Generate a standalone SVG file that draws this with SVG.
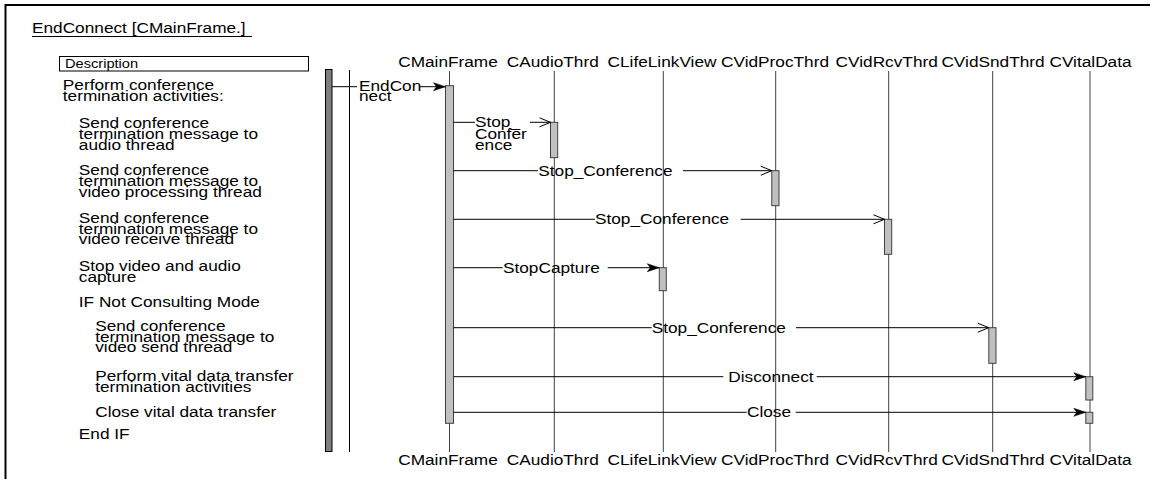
<svg xmlns="http://www.w3.org/2000/svg" width="1154" height="479" viewBox="0 0 1154 479">
<style>
.t{font-family:"Liberation Sans",Arial,sans-serif;font-size:14.5px;fill:#000}
.d{font-size:12.3px}
.h{text-anchor:middle}
.ll{stroke:#404040;stroke-width:1;fill:none}
.act{fill:#c0c0c0;stroke:#404040;stroke-width:1}
.msg{stroke:#000;stroke-width:1;fill:none}
.mo{marker-end:url(#open)}
.mf{marker-end:url(#fill)}
</style>
<defs>
<marker id="open" markerUnits="userSpaceOnUse" markerWidth="13" markerHeight="11" refX="11" refY="4.5" orient="auto" overflow="visible">
<path d="M0,0 L11,4.5 L0,9" fill="none" stroke="#000" stroke-width="1"/>
</marker>
<marker id="fill" markerUnits="userSpaceOnUse" markerWidth="13" markerHeight="10" refX="12" refY="4" orient="auto" overflow="visible">
<path d="M0,0 L12,4 L0,8 L3,4 z" fill="#000" stroke="#000" stroke-width="0.5"/>
</marker>
</defs>
<rect width="1154" height="479" fill="#fff"/>
<g id="frame">
<path d="M5.5,481 V5 H1150" fill="none" stroke="#000" stroke-width="2"/>
<text class="t" transform="translate(32,33) scale(1.19,1)">EndConnect [CMainFrame.]</text>
<line x1="32" y1="36.5" x2="252" y2="36.5" stroke="#000" stroke-width="1"/>
</g>
<g id="description">
<rect x="59.5" y="56.5" width="249" height="14.5" fill="#fff" stroke="#000" stroke-width="1"/>
<text class="t d" transform="translate(65,68.3) scale(1.19,1)">Description</text>
<text class="t" transform="translate(62.8,90) scale(1.19,1)"><tspan x="0" y="0">Perform conference</tspan><tspan x="0" y="10.6">termination activities:</tspan></text>
<text class="t" transform="translate(78.8,128.3) scale(1.19,1)"><tspan x="0" y="0">Send conference</tspan><tspan x="0" y="10.8">termination message to</tspan><tspan x="0" y="21.6">audio thread</tspan></text>
<text class="t" transform="translate(78.8,175) scale(1.19,1)"><tspan x="0" y="0">Send conference</tspan><tspan x="0" y="10.8">termination message to</tspan><tspan x="0" y="21.6">video processing thread</tspan></text>
<text class="t" transform="translate(78.8,222.7) scale(1.19,1)"><tspan x="0" y="0">Send conference</tspan><tspan x="0" y="10.8">termination message to</tspan><tspan x="0" y="21.6">video receive thread</tspan></text>
<text class="t" transform="translate(78.8,270.7) scale(1.19,1)"><tspan x="0" y="0">Stop video and audio</tspan><tspan x="0" y="10.8">capture</tspan></text>
<text class="t" transform="translate(78.8,306.8) scale(1.19,1)">IF Not Consulting Mode</text>
<text class="t" transform="translate(95.2,330.7) scale(1.19,1)"><tspan x="0" y="0">Send conference</tspan><tspan x="0" y="10.8">termination message to</tspan><tspan x="0" y="21.6">video send thread</tspan></text>
<text class="t" transform="translate(95.2,381) scale(1.19,1)"><tspan x="0" y="0">Perform vital data transfer</tspan><tspan x="0" y="10.8">termination activities</tspan></text>
<text class="t" transform="translate(95.2,416.7) scale(1.19,1)">Close vital data transfer</text>
<text class="t" transform="translate(78.8,439.3) scale(1.19,1)">End IF</text>
</g>
<g id="actor">
<rect x="325.5" y="69.5" width="6.5" height="382" fill="#808080" stroke="#000" stroke-width="1"/>
<line x1="349.5" y1="70" x2="349.5" y2="452" stroke="#000" stroke-width="1"/>
</g>
<g id="CMainFrame">
<text class="t h" transform="translate(448,66.7) scale(1.19,1)">CMainFrame</text>
<line class="ll" x1="449.5" y1="71" x2="449.5" y2="452"/>
<rect class="act" x="445.5" y="85.7" width="8" height="337.6"/>
<text class="t h" transform="translate(448,465) scale(1.19,1)">CMainFrame</text>
</g>
<g id="CAudioThrd">
<text class="t h" transform="translate(552.8,66.7) scale(1.19,1)">CAudioThrd</text>
<line class="ll" x1="554.3" y1="71" x2="554.3" y2="452"/>
<rect class="act" x="550.5" y="122.3" width="7.2" height="35.4"/>
<text class="t h" transform="translate(552.8,465) scale(1.19,1)">CAudioThrd</text>
</g>
<g id="CLifeLinkView">
<text class="t h" transform="translate(662,66.7) scale(1.19,1)">CLifeLinkView</text>
<line class="ll" x1="663.3" y1="71" x2="663.3" y2="452"/>
<rect class="act" x="659.3" y="267.7" width="7" height="23"/>
<text class="t h" transform="translate(662,465) scale(1.19,1)">CLifeLinkView</text>
</g>
<g id="CVidProcThrd">
<text class="t h" transform="translate(775,66.7) scale(1.19,1)">CVidProcThrd</text>
<line class="ll" x1="775.7" y1="71" x2="775.7" y2="452"/>
<rect class="act" x="771.8" y="170.7" width="7.2" height="35"/>
<text class="t h" transform="translate(775,465) scale(1.19,1)">CVidProcThrd</text>
</g>
<g id="CVidRcvThrd">
<text class="t h" transform="translate(886.7,66.7) scale(1.19,1)">CVidRcvThrd</text>
<line class="ll" x1="888.7" y1="71" x2="888.7" y2="452"/>
<rect class="act" x="884.5" y="219.3" width="7.2" height="35"/>
<text class="t h" transform="translate(886.7,465) scale(1.19,1)">CVidRcvThrd</text>
</g>
<g id="CVidSndThrd">
<text class="t h" transform="translate(993,66.7) scale(1.19,1)">CVidSndThrd</text>
<line class="ll" x1="992.7" y1="71" x2="992.7" y2="452"/>
<rect class="act" x="988.8" y="327.7" width="7.2" height="35.6"/>
<text class="t h" transform="translate(993,465) scale(1.19,1)">CVidSndThrd</text>
</g>
<g id="CVitalData">
<text class="t h" transform="translate(1090.5,66.7) scale(1.19,1)">CVitalData</text>
<line class="ll" x1="1090" y1="71" x2="1090" y2="452"/>
<rect class="act" x="1085.8" y="376.7" width="7" height="23.3"/>
<rect class="act" x="1085.8" y="412.3" width="7" height="11"/>
<text class="t h" transform="translate(1090.5,465) scale(1.19,1)">CVitalData</text>
</g>
<g id="connectors">
<line class="msg" x1="332" y1="86.7" x2="357" y2="86.7"/>
<line class="msg mf" x1="420" y1="86.7" x2="445.5" y2="86.7"/>
<text class="t" transform="translate(359,90.5) scale(1.19,1)"><tspan x="0" y="0">EndCon</tspan><tspan x="0" y="10.8">nect</tspan></text>

<line class="msg" x1="453.5" y1="122.3" x2="475" y2="122.3"/>
<line class="msg mo" x1="530" y1="122.3" x2="550.5" y2="122.3"/>
<text class="t" transform="translate(475,127.2) scale(1.19,1)"><tspan x="0" y="0">Stop_</tspan><tspan x="0" y="11.4">Confer</tspan><tspan x="0" y="22.8">ence</tspan></text>

<line class="msg" x1="453.5" y1="170.7" x2="538" y2="170.7"/>
<line class="msg mo" x1="683" y1="170.7" x2="771.8" y2="170.7"/>
<text class="t" transform="translate(538.3,175.5) scale(1.19,1)">Stop_Conference</text>

<line class="msg" x1="453.5" y1="219.3" x2="595" y2="219.3"/>
<line class="msg mo" x1="740.7" y1="219.3" x2="884.5" y2="219.3"/>
<text class="t" transform="translate(595,224.1) scale(1.19,1)">Stop_Conference</text>

<line class="msg" x1="453.5" y1="267.7" x2="502.7" y2="267.7"/>
<line class="msg mf" x1="607.7" y1="267.7" x2="659.3" y2="267.7"/>
<text class="t" transform="translate(503,272.5) scale(1.19,1)">StopCapture</text>

<line class="msg" x1="453.5" y1="327.7" x2="651.7" y2="327.7"/>
<line class="msg mo" x1="796" y1="327.7" x2="988.8" y2="327.7"/>
<text class="t" transform="translate(651.7,332.5) scale(1.19,1)">Stop_Conference</text>

<line class="msg" x1="453.5" y1="376.7" x2="723.3" y2="376.7"/>
<line class="msg mf" x1="816.7" y1="376.7" x2="1085.8" y2="376.7"/>
<text class="t" transform="translate(728.3,381.5) scale(1.19,1)">Disconnect</text>

<line class="msg" x1="453.5" y1="412.3" x2="746.7" y2="412.3"/>
<line class="msg mf" x1="795.7" y1="412.3" x2="1085.8" y2="412.3"/>
<text class="t" transform="translate(747,417.1) scale(1.19,1)">Close</text>
</g>
</svg>
